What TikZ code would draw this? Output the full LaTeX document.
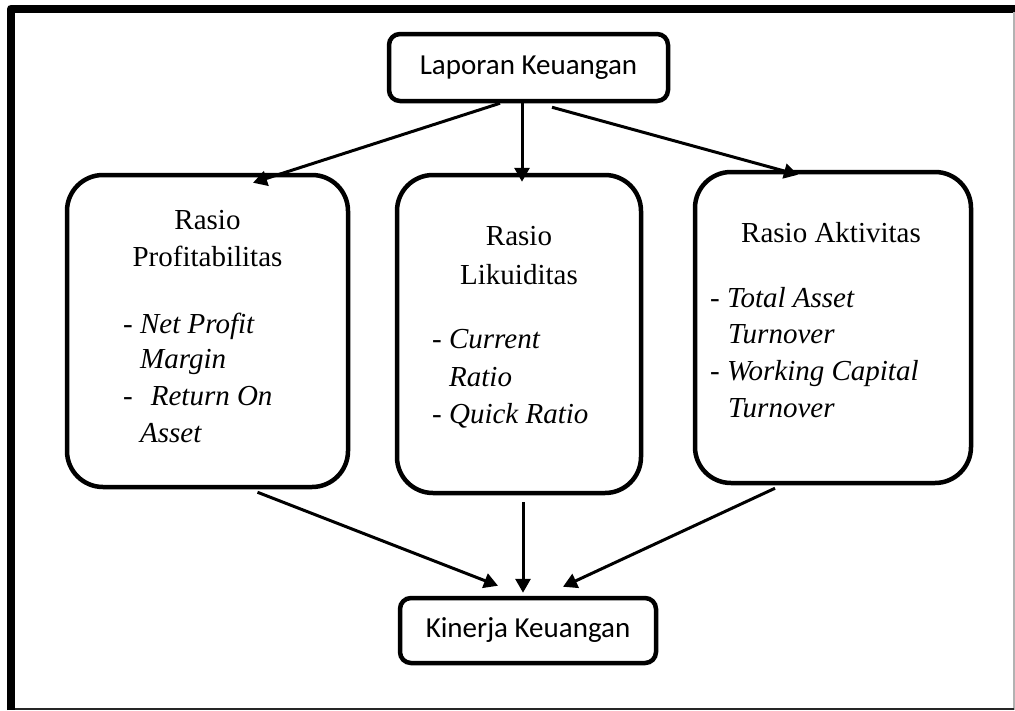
\documentclass[tikz,border=0pt]{standalone}
\usepackage{fontspec}
\setmainfont{Liberation Serif}
\newfontfamily\calibrifont{Carlito}
\usetikzlibrary{arrows.meta}
\begin{document}
\begin{tikzpicture}[x=1pt,y=-1pt,
  bigbox/.style={draw, line width=4.5pt, rounded corners=36pt, inner sep=0pt},
  smallbox/.style={draw, line width=4.5pt, rounded corners=11pt, inner sep=0pt,
    font=\calibrifont\fontsize{29}{35}\selectfont},
  arr/.style={line width=3pt, -{Triangle[length=14pt,width=15pt]}},
  txt/.style={inner sep=0pt, font=\fontsize{29}{35}\selectfont},
  ln/.style={txt, anchor=base west},
  hd/.style={txt, anchor=base}]
\useasboundingbox (0,0) rectangle (1015,710);

% outer frame
\draw[line width=8pt, line join=round] (11,710) -- (11,8.5) -- (1015,8.5);
\draw[gray!60, line width=1.5pt] (1014,12) -- (1014,710);
\draw[black!85, line width=2pt] (15,709) -- (1014,709);

% boxes
\node[smallbox, minimum width=279pt, minimum height=67pt] (lap) at (528.5,67.5) {Laporan Keuangan};
\node[bigbox, minimum width=281pt, minimum height=312pt] (prof) at (207.5,331) {};
\node[bigbox, minimum width=244pt, minimum height=318pt] (liq) at (519,334) {};
\node[bigbox, minimum width=276pt, minimum height=311pt] (akt) at (833,327.5) {};
\node[smallbox, minimum width=256pt, minimum height=65pt] (kin) at (528,630.5) {Kinerja Keuangan};

% texts: Profitabilitas
\node[hd] (p1) at (207.5,229) {Rasio};
\node[hd] (p2) at (207.5,266) {Profitabilitas};
\node[ln] (p3) at (123,333) {- \textit{Net Profit}};
\node[ln] (p4) at (140,368) {\textit{Margin}};
\node[ln] (p5) at (123,405) {-\hspace{18pt}\textit{Return On}};
\node[ln] (p6) at (140,442) {\textit{Asset}};

% texts: Likuiditas
\node[hd] (l1) at (519,245) {Rasio};
\node[hd] (l2) at (519,284) {Likuiditas};
\node[ln] (l3) at (432,348) {- \textit{Current}};
\node[ln] (l4) at (449,386) {\textit{Ratio}};
\node[ln] (l5) at (432,423) {- \textit{Quick Ratio}};

% texts: Aktivitas
\node[hd] (a1) at (831,242) {Rasio Aktivitas};
\node[ln] (a2) at (710,307) {- \textit{Total Asset}};
\node[ln] (a3) at (728,343) {\textit{Turnover}};
\node[ln] (a4) at (710,380) {- \textit{Working Capital}};
\node[ln] (a5) at (728,417) {\textit{Turnover}};

% connectors
\draw[arr] ([xshift=-28.5pt]lap.south) -- ([xshift=45.5pt,yshift=-10pt]prof.north);
\draw[arr] ([xshift=-6.5pt]lap.south) -- ([xshift=3pt,yshift=-9pt]liq.north);
\draw[arr] ([xshift=23.5pt,yshift=-4pt]lap.south) -- ([xshift=-35pt,yshift=-5pt]akt.north);
\draw[arr] ([xshift=50pt,yshift=-3pt]prof.south) -- ([xshift=-30pt,yshift=10pt]kin.north);
\draw[arr] ([xshift=4pt,yshift=-7pt]liq.south) -- ([xshift=-5pt,yshift=3pt]kin.north);
\draw[arr] ([xshift=-58pt,yshift=-3pt]akt.south) -- ([xshift=35pt,yshift=9pt]kin.north);
\end{tikzpicture}
\end{document}
